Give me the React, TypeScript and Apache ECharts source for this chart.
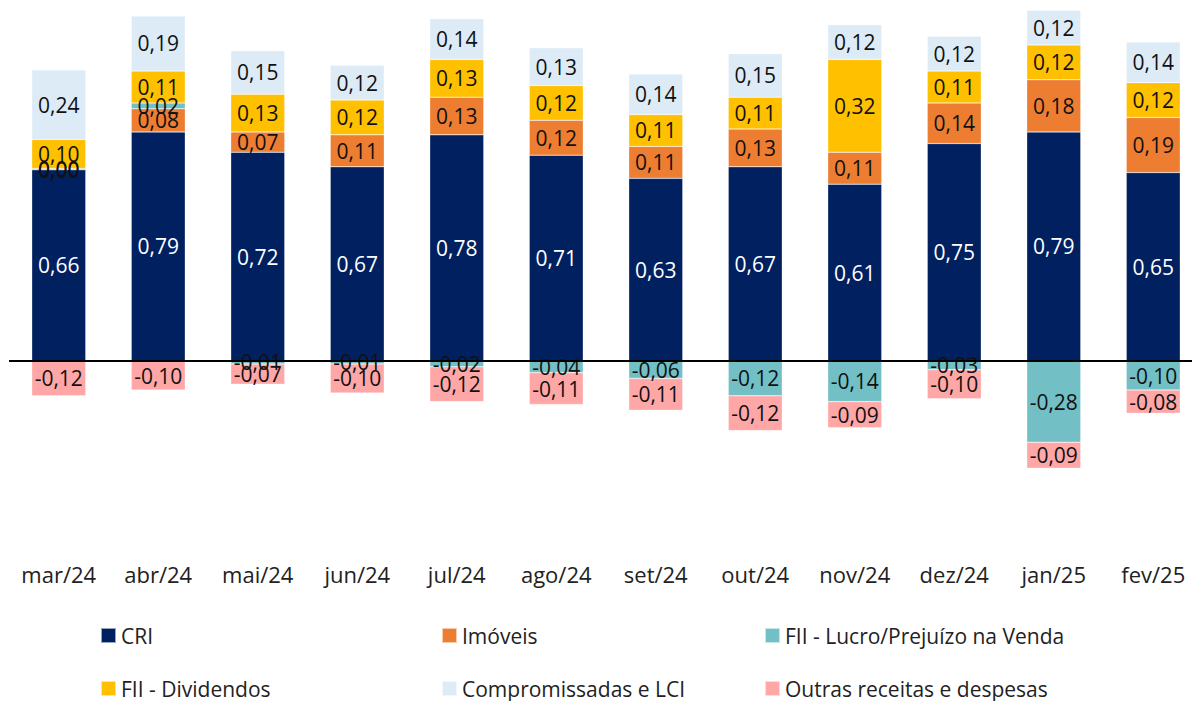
import React, { useEffect, useRef } from "react";
import * as echarts from "echarts";

const categories = ["mar/24", "abr/24", "mai/24", "jun/24", "jul/24", "ago/24", "set/24", "out/24", "nov/24", "dez/24", "jan/25", "fev/25"];
const cri = [0.66, 0.79, 0.72, 0.67, 0.78, 0.71, 0.63, 0.67, 0.61, 0.75, 0.79, 0.65];
const imoveis = [0.0, 0.08, 0.07, 0.11, 0.13, 0.12, 0.11, 0.13, 0.11, 0.14, 0.18, 0.19];
const fiiLucro = [0.004, 0.02, -0.01, -0.01, -0.02, -0.04, -0.06, -0.12, -0.14, -0.03, -0.28, -0.1];
const fiiDividendos = [0.1, 0.11, 0.13, 0.12, 0.13, 0.12, 0.11, 0.11, 0.32, 0.11, 0.12, 0.12];
const compromissadas = [0.24, 0.19, 0.15, 0.12, 0.14, 0.13, 0.14, 0.15, 0.12, 0.12, 0.12, 0.14];
const outras = [-0.12, -0.1, -0.07, -0.1, -0.12, -0.11, -0.11, -0.12, -0.09, -0.1, -0.09, -0.08];

const FONT = "'Open Sans', sans-serif";

export default function App() {
  const ref = useRef<HTMLDivElement>(null);
  useEffect(() => {
    document.body.style.margin = "0";
    if (!ref.current) return;
    const chart = echarts.init(ref.current, undefined, { renderer: "svg" });
    const fmt = (p: any) => Number(p.value).toFixed(2).replace(".", ",");
    const mk = (name: string, data: number[], color: string, labelColor: string, extra: any = {}) => ({
      name,
      type: "bar",
      stack: "total",
      data,
      barWidth: 54,
      itemStyle: { color, borderColor: "rgba(255,255,255,0.6)", borderWidth: 0.5 },
      label: {
        show: true,
        position: "inside",
        formatter: fmt,
        color: labelColor,
        fontFamily: FONT,
        fontSize: 21,
      },
      ...extra,
    });
    const legendBase = {
      orient: "vertical",
      top: 625,
      padding: 0,
      itemWidth: 15,
      itemHeight: 15,
      itemGap: 32,
      icon: "rect",
      textStyle: { fontFamily: FONT, fontSize: 21, color: "#222", lineHeight: 21 },
      selectedMode: false,
    };
    chart.setOption({
      animation: false,
      backgroundColor: "#fff",
      grid: { left: 9, right: 9, top: 0, bottom: 166, containLabel: false },
      xAxis: {
        type: "category",
        data: categories,
        axisLine: { show: false, onZero: false },
        axisTick: { show: false },
        axisLabel: { fontFamily: FONT, fontSize: 22, color: "#222", margin: 28 },
      },
      yAxis: {
        type: "value",
        min: -0.6,
        max: 1.245,
        show: false,
        splitLine: { show: false },
      },
      legend: [
        { ...legendBase, left: 100, data: ["CRI", "FII - Dividendos"] },
        { ...legendBase, left: 441, data: ["Imóveis", "Compromissadas e LCI"] },
        { ...legendBase, left: 764, data: ["FII - Lucro/Prejuízo na Venda", "Outras receitas e despesas"] },
      ],
      series: [
        mk("CRI", cri, "#002060", "#ffffff", {
          markLine: {
            silent: true,
            symbol: "none",
            label: { show: false },
            lineStyle: { color: "#000", width: 2, type: "solid" },
            data: [{ yAxis: 0 }],
          },
        }),
        mk("Imóveis", imoveis, "#ED7D31", "#111"),
        mk("FII - Lucro/Prejuízo na Venda", fiiLucro, "#72C0C5", "#111"),
        mk("FII - Dividendos", fiiDividendos, "#FFC000", "#111"),
        mk("Compromissadas e LCI", compromissadas, "#DDEBF7", "#111"),
        mk("Outras receitas e despesas", outras, "#FFA7A7", "#111"),
      ],
    });
    return () => chart.dispose();
  }, []);
  return (
    <div style={{ width: 1192, height: 701, overflow: "hidden", position: "relative" }}>
      <div ref={ref} style={{ width: 1212, height: 701 }} />
    </div>
  );
}
